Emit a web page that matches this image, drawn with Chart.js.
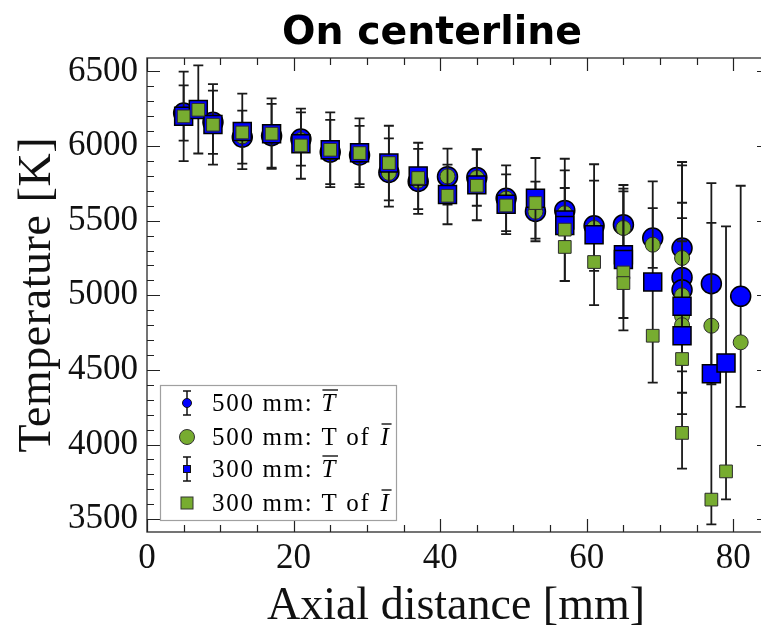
<!DOCTYPE html>
<html><head><meta charset="utf-8">
<script src="https://cdn.jsdelivr.net/npm/chart.js@4.4.0/dist/chart.umd.min.js"></script>
<style>
html,body{margin:0;padding:0;background:#fff;overflow:hidden;}
#wrap{width:761px;height:634px;position:relative;overflow:hidden;}
canvas{display:block;}
</style>
</head><body>
<div id="wrap"><canvas id="c" width="772" height="634"></canvas></div>
<script>
// ---- Data ----
const xTickLabels = [0, 20, 40, 60, 80];
const yTickLabels = [3500, 4000, 4500, 5000, 5500, 6000, 6500];

// 500 mm: mean T (blue circles) with error half-widths
const x500mean = [5,9,13,17,21,25,29,33,37,41,45,49,53,57,61,65,69,73,73,73,77,81];
const t500mean = [6221,6160,6060,6069,6047,5960,5940,5823,5763,5795,5790,5650,5562,5569,5466,5473,5384,5317,5120,5037,5078,4993];
const e500mean = [185,212,178,214,178,215,195,229,218,188,190,220,200,150,302,266,200,200,773,833,674,741];

// 500 mm: T of mean I (green circles)
const x500int = [5,9,13,17,21,25,29,33,37,41,45,49,53,57,61,65,69,73,73,73,73,77,81];
const t500int = [6210,6150,6065,6070,6040,5958,5938,5820,5768,5797,5787,5648,5560,5550,5451,5451,5339,5250,5000,4860,4800,4796,4685];

// 300 mm: mean T (blue squares) with error half-widths
const x300mean = [5,7,9,13,17,21,25,29,33,37,41,45,49,53,57,57,61,65,65,69,73,73,77,79];
const t300mean = [6199,6245,6145,6098,6083,6016,5975,5955,5886,5800,5676,5740,5610,5650,5505,5467,5406,5272,5240,5089,4926,4729,4475,4547];
const e300mean = [300,295,270,253,236,235,250,230,250,222,200,237,200,270,410,370,472,424,475,674,436,891,1010,915];

// 300 mm: T of mean I (green squares)
const x300int = [5,7,9,13,17,21,25,29,33,37,41,45,49,53,57,57,61,65,65,69,73,73,77,79];
const t300int = [6199,6243,6143,6091,6083,6004,5975,5953,5886,5786,5667,5734,5602,5618,5440,5324,5223,5153,5082,4729,4573,4078,3631,3820];

const legendLabels = ['500 mm: ', '500 mm: T of ', '300 mm: ', '300 mm: T of '];
const titleText = 'On centerline';
const xTitle = 'Axial distance [mm]';
const yTitle = 'Temperature [K]';

// ---- Styles ----
const BLUE = '#0000FF';
const GREEN = '#77AC30';
const SERIF = '"Liberation Serif", "DejaVu Serif", serif';

const pts = (xs, ys) => xs.map((x, i) => ({x: x, y: ys[i]}));

const errorBarPlugin = {
  id: 'errbars',
  beforeDatasetDraw(chart, args) {
    const ds = chart.data.datasets[args.index];
    if (!ds.errors) return;
    const xs = chart.scales.x, ys = chart.scales.y, ctx = chart.ctx;
    ctx.save();
    ctx.strokeStyle = '#1a1a1a';
    ctx.lineWidth = 1.8;
    ds.data.forEach((p, i) => {
      const e = ds.errors[i];
      const px = xs.getPixelForValue(p.x);
      const y1 = ys.getPixelForValue(p.y + e), y2 = ys.getPixelForValue(p.y - e);
      ctx.beginPath();
      ctx.moveTo(px, y1); ctx.lineTo(px, y2);
      ctx.moveTo(px - 5, y1); ctx.lineTo(px + 5, y1);
      ctx.moveTo(px - 5, y2); ctx.lineTo(px + 5, y2);
      ctx.stroke();
    });
    ctx.restore();
  }
};

const framePlugin = {
  id: 'frame',
  beforeDatasetsDraw(chart) {
    const ctx = chart.ctx, a = chart.chartArea;
    const xs = chart.scales.x, ys = chart.scales.y;
    ctx.save();
    ctx.strokeStyle = '#3a3a3a';
    ctx.lineWidth = 1.4;
    ctx.strokeRect(a.left, a.top, a.right - a.left, a.bottom - a.top);
    ctx.lineWidth = 1.2;
    ctx.strokeStyle = '#222';
    ctx.beginPath();
    for (let v = xs.min; v <= xs.max + 1e-6; v += 5) {
      const L = (v % 20 === 0) ? 13 : 7;
      const px = Math.round(xs.getPixelForValue(v)) + 0.5;
      ctx.moveTo(px, a.bottom); ctx.lineTo(px, a.bottom - L);
      ctx.moveTo(px, a.top); ctx.lineTo(px, a.top + L);
    }
    for (let v = 3500; v <= ys.max; v += 100) {
      const L = (v % 500 === 0) ? 13 : 7;
      const py = Math.round(ys.getPixelForValue(v)) + 0.5;
      ctx.moveTo(a.left, py); ctx.lineTo(a.left + L, py);
      ctx.moveTo(a.right, py); ctx.lineTo(a.right - L, py);
    }
    ctx.stroke();
    ctx.restore();
  }
};

// draw text stretched (via letter spacing) to a target width, centred at (cx, cy)
function spacedText(ctx, txt, cx, cy, font, target) {
  ctx.font = font;
  ctx.letterSpacing = '0px';
  const w = ctx.measureText(txt).width;
  const sp = Math.max(0, (target - w) / (txt.length - 1));
  ctx.letterSpacing = sp.toFixed(2) + 'px';
  ctx.textAlign = 'center';
  ctx.textBaseline = 'middle';
  ctx.fillText(txt, cx + sp / 2, cy);
  ctx.letterSpacing = '0px';
}

function overlineText(ctx, txt, x, baseline, font) {
  ctx.font = font;
  const w = ctx.measureText(txt).width;
  ctx.fillText(txt, x, baseline);
  ctx.beginPath();
  ctx.lineWidth = 1.3;
  ctx.moveTo(x + 1, baseline - 21); ctx.lineTo(x + w + 1, baseline - 21);
  ctx.stroke();
  return w;
}

const textPlugin = {
  id: 'texts',
  afterDraw(chart) {
    const ctx = chart.ctx;
    const a = chart.chartArea;
    ctx.save();
    ctx.fillStyle = '#000';
    // title
    ctx.font = 'bold 36px "DejaVu Sans", sans-serif';
    ctx.letterSpacing = '0px';
    let tw = ctx.measureText(titleText).width;
    ctx.font = 'bold ' + (36 * 300 / tw).toFixed(1) + 'px "DejaVu Sans", sans-serif';
    ctx.textAlign = 'center';
    ctx.textBaseline = 'alphabetic';
    ctx.fillText(titleText, 432, 44);

    // axis titles
    ctx.fillStyle = '#111';
    spacedText(ctx, xTitle, 456, 607, '46px ' + SERIF, 378);
    ctx.save();
    ctx.translate(38, (a.top + a.bottom) / 2);
    ctx.rotate(-Math.PI / 2);
    spacedText(ctx, yTitle, 0, 0, '46px ' + SERIF, 315);
    ctx.restore();

    // legend box
    ctx.fillStyle = '#fff';
    ctx.fillRect(160, 385, 237, 136);
    ctx.strokeStyle = '#a0a0a0';
    ctx.lineWidth = 1.2;
    ctx.strokeRect(160.5, 385.5, 236, 135);

    const rowsY = [403, 437, 469, 503];
    const mx = 187;
    ctx.strokeStyle = '#111';
    // row 1: blue circle with error bar
    ctx.lineWidth = 1.5;
    ctx.beginPath();
    ctx.moveTo(mx, rowsY[0] - 12); ctx.lineTo(mx, rowsY[0] + 12);
    ctx.moveTo(mx - 4, rowsY[0] - 12); ctx.lineTo(mx + 4, rowsY[0] - 12);
    ctx.moveTo(mx - 4, rowsY[0] + 12); ctx.lineTo(mx + 4, rowsY[0] + 12);
    ctx.stroke();
    ctx.beginPath(); ctx.arc(mx, rowsY[0], 4.5, 0, Math.PI * 2);
    ctx.fillStyle = BLUE; ctx.fill(); ctx.lineWidth = 1; ctx.stroke();
    // row 2: green circle
    ctx.beginPath(); ctx.arc(mx, rowsY[1], 7.5, 0, Math.PI * 2);
    ctx.fillStyle = GREEN; ctx.fill(); ctx.strokeStyle = '#333'; ctx.lineWidth = 1; ctx.stroke();
    // row 3: blue square with error bar
    ctx.strokeStyle = '#111'; ctx.lineWidth = 1.5;
    ctx.beginPath();
    ctx.moveTo(mx, rowsY[2] - 12); ctx.lineTo(mx, rowsY[2] + 12);
    ctx.moveTo(mx - 4, rowsY[2] - 12); ctx.lineTo(mx + 4, rowsY[2] - 12);
    ctx.moveTo(mx - 4, rowsY[2] + 12); ctx.lineTo(mx + 4, rowsY[2] + 12);
    ctx.stroke();
    ctx.fillStyle = BLUE; ctx.fillRect(mx - 3.5, rowsY[2] - 3.5, 7, 7);
    ctx.lineWidth = 1; ctx.strokeRect(mx - 3.5, rowsY[2] - 3.5, 7, 7);
    // row 4: green square
    ctx.fillStyle = GREEN; ctx.fillRect(mx - 6, rowsY[3] - 6, 12, 12);
    ctx.strokeStyle = '#333'; ctx.strokeRect(mx - 6, rowsY[3] - 6, 12, 12);

    // legend texts
    ctx.fillStyle = '#000';
    ctx.strokeStyle = '#000';
    ctx.textAlign = 'left';
    ctx.textBaseline = 'alphabetic';
    ctx.letterSpacing = '1.7px';
    const f = '25px ' + SERIF, fi = 'italic 25px ' + SERIF;
    const tx = 212;
    for (let r = 0; r < 4; r++) {
      const base = rowsY[r] + 8;
      ctx.font = f;
      const lbl = legendLabels[r];
      ctx.fillText(lbl, tx, base);
      const w = ctx.measureText(lbl).width;
      if (r % 2 === 0) {
        overlineText(ctx, 'T', tx + w, base, fi);
      } else {
        overlineText(ctx, 'I', tx + w + 2, base, fi);
      }
    }
    ctx.letterSpacing = '0px';
    ctx.restore();
  }
};

const ctx = document.getElementById('c').getContext('2d');
new Chart(ctx, {
  type: 'scatter',
  data: {
    datasets: [
      { label: '300 mm: T of I', data: pts(x300int, t300int), pointStyle: 'rect', pointRadius: 9,
        backgroundColor: GREEN, borderColor: '#2b2b2b', borderWidth: 1 },
      { label: '300 mm: T', data: pts(x300mean, t300mean), errors: e300mean, pointStyle: 'rect', pointRadius: 12.7,
        backgroundColor: BLUE, borderColor: '#000', borderWidth: 1.5 },
      { label: '500 mm: T of I', data: pts(x500int, t500int), pointStyle: 'circle', pointRadius: 7.5,
        backgroundColor: GREEN, borderColor: '#2b2b2b', borderWidth: 1 },
      { label: '500 mm: T', data: pts(x500mean, t500mean), errors: e500mean, pointStyle: 'circle', pointRadius: 10,
        backgroundColor: BLUE, borderColor: '#000', borderWidth: 1.5 }
    ]
  },
  options: {
    responsive: false,
    animation: false,
    events: [],
    devicePixelRatio: 1,
    layout: { autoPadding: false, padding: { left: 0, right: 2, top: 58, bottom: 0 } },
    plugins: { legend: { display: false }, tooltip: { enabled: false }, title: { display: false } },
    scales: {
      x: {
        type: 'linear', min: 0, max: 85,
        grid: { display: false, drawTicks: false },
        border: { display: false },
        afterFit: (s) => { s.height = 102; s.paddingLeft = 0; s.paddingRight = 0; },
        afterBuildTicks: (s) => { s.ticks = xTickLabels.map(v => ({ value: v })); },
        ticks: { color: '#111', padding: 6, maxRotation: 0, font: { family: SERIF, size: 35 },
                 callback: (v) => String(v) },
        title: { display: false }
      },
      y: {
        type: 'linear', min: 3414, max: 6590,
        grid: { display: false, drawTicks: false },
        border: { display: false },
        afterFit: (s) => { s.width = 147; s.paddingTop = 0; s.paddingBottom = 0; },
        afterBuildTicks: (s) => { s.ticks = yTickLabels.map(v => ({ value: v })); },
        ticks: { color: '#111', padding: 9, font: { family: SERIF, size: 35 },
                 callback: (v) => String(v) },
        title: { display: false }
      }
    }
  },
  plugins: [framePlugin, errorBarPlugin, textPlugin]
});
</script>
</body></html>
